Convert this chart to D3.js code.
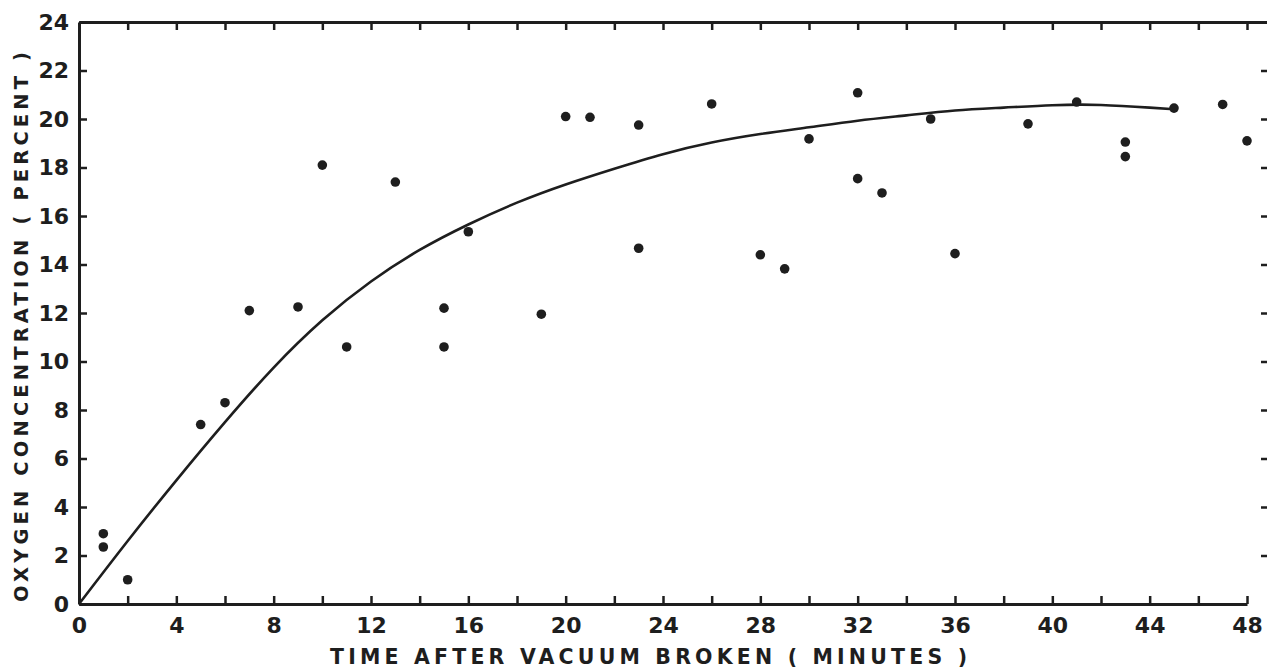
<!DOCTYPE html>
<html>
<head>
<meta charset="utf-8">
<script src="https://cdn.jsdelivr.net/npm/d3@7"></script>
<style>
  body { margin: 0; background: #fff; }
  svg { display: block; }
</style>
</head>
<body>
<svg></svg>
<script>
// measured points (minutes, percent O2)
const times  = [1, 1, 2, 5, 6, 7, 9, 10, 11, 13, 15, 15, 16, 19, 20, 21, 23, 23, 26, 28, 29, 30, 32, 32, 33, 35, 36, 39, 41, 43, 43, 45, 47, 48];
const oxygen = [2.9, 2.35, 1.0, 7.4, 8.3, 12.1, 12.25, 18.1, 10.6, 17.4, 10.6, 12.2, 15.35, 11.95, 20.1, 20.07, 19.75, 14.67, 20.62, 14.4, 13.82, 19.18, 21.08, 17.54, 16.95, 20.0, 14.45, 19.8, 20.7, 19.05, 18.45, 20.45, 20.6, 19.1];

// fitted curve
const curveTime   = [0, 2, 4, 6, 8, 10, 12, 14, 16, 18, 20, 22, 24, 26, 28, 30, 32, 34, 36, 38, 40, 42, 44, 45];
const curveOxygen = [0, 2.6, 5.1, 7.5, 9.75, 11.7, 13.3, 14.6, 15.65, 16.55, 17.3, 17.95, 18.55, 19.03, 19.38, 19.66, 19.93, 20.15, 20.35, 20.47, 20.57, 20.58, 20.47, 20.4];

const xTicks = d3.range(0, 49, 2);
const xLabels = d3.range(0, 49, 4);
const yTicks = d3.range(0, 25, 2);

const WIDTH = 1267;
const HEIGHT = 668;
const LEFT = 79;
const RIGHT = 1247;
const TOP = 22;
const BOTTOM = 604;
const FRAME_RIGHT = 1269;
const INK = '#1e1e1e';
const FONT = '"DejaVu Sans", sans-serif';

const svg = d3.select('svg')
  .attr('width', WIDTH)
  .attr('height', HEIGHT);

const xScale = d3.scaleLinear().domain([0, 48]).range([LEFT, RIGHT]);
const yScale = d3.scaleLinear().domain([0, 24]).range([BOTTOM, TOP]);

function styleAxis(g) {
  g.attr('font-family', FONT)
   .attr('font-size', 22)
   .attr('font-weight', 'bold');
  g.select('.domain').attr('stroke', INK).attr('stroke-width', 3);
  g.selectAll('.tick line').attr('stroke', INK).attr('stroke-width', 2.5);
  g.selectAll('.tick text').attr('fill', INK);
}

// bottom
svg.append('g')
  .attr('transform', `translate(0, ${BOTTOM})`)
  .call(d3.axisBottom(xScale)
    .tickValues(xTicks)
    .tickSizeInner(-8)
    .tickSizeOuter(0)
    .tickPadding(13)
    .tickFormat(d => xLabels.includes(d) ? d : ''))
  .call(styleAxis);

// top, runs on past the last tick to the page edge
const topScale = xScale.copy().domain([0, 48 * (FRAME_RIGHT - LEFT) / (RIGHT - LEFT)]).range([LEFT, FRAME_RIGHT]);
svg.append('g')
  .attr('transform', `translate(0, ${TOP})`)
  .call(d3.axisTop(topScale)
    .tickValues(xTicks.filter(d => d > 0))
    .tickSizeInner(-8)
    .tickSizeOuter(0)
    .tickFormat(''))
  .call(styleAxis);

// left
svg.append('g')
  .attr('transform', `translate(${LEFT}, 0)`)
  .call(d3.axisLeft(yScale)
    .tickValues(yTicks)
    .tickSizeInner(-8)
    .tickSizeOuter(0)
    .tickPadding(10))
  .call(styleAxis);

// right
svg.append('g')
  .attr('transform', `translate(${FRAME_RIGHT}, 0)`)
  .call(d3.axisRight(yScale)
    .tickValues(yTicks.filter(d => d > 0 && d < 24))
    .tickSizeInner(-8)
    .tickSizeOuter(0)
    .tickFormat(''))
  .call(styleAxis);

// fitted curve
const line = d3.line()
  .x(d => xScale(d[0]))
  .y(d => yScale(d[1]))
  .curve(d3.curveNatural);

svg.append('path')
  .datum(curveTime.map((t, i) => [t, curveOxygen[i]]))
  .attr('d', line)
  .attr('fill', 'none')
  .attr('stroke', INK)
  .attr('stroke-width', 2.6);

// observations
svg.selectAll('circle.obs')
  .data(times.map((t, i) => [t, oxygen[i]]))
  .enter()
  .append('circle')
  .attr('class', 'obs')
  .attr('cx', d => xScale(d[0]))
  .attr('cy', d => yScale(d[1]))
  .attr('r', 4.8)
  .attr('fill', INK);

// axis titles (lettering is widely spaced in the original)
svg.append('text')
  .text('TIME AFTER VACUUM BROKEN ( MINUTES )')
  .attr('x', 330)
  .attr('y', 664)
  .attr('textLength', 637)
  .attr('lengthAdjust', 'spacing')
  .attr('font-family', FONT)
  .attr('font-weight', 'bold')
  .attr('font-size', 20.5)
  .attr('fill', INK);

svg.append('text')
  .text('OXYGEN CONCENTRATION ( PERCENT )')
  .attr('transform', 'translate(28, 602) rotate(-90)')
  .attr('textLength', 550)
  .attr('lengthAdjust', 'spacing')
  .attr('font-family', FONT)
  .attr('font-weight', 'bold')
  .attr('font-size', 19.5)
  .attr('fill', INK);
</script>
</body>
</html>
